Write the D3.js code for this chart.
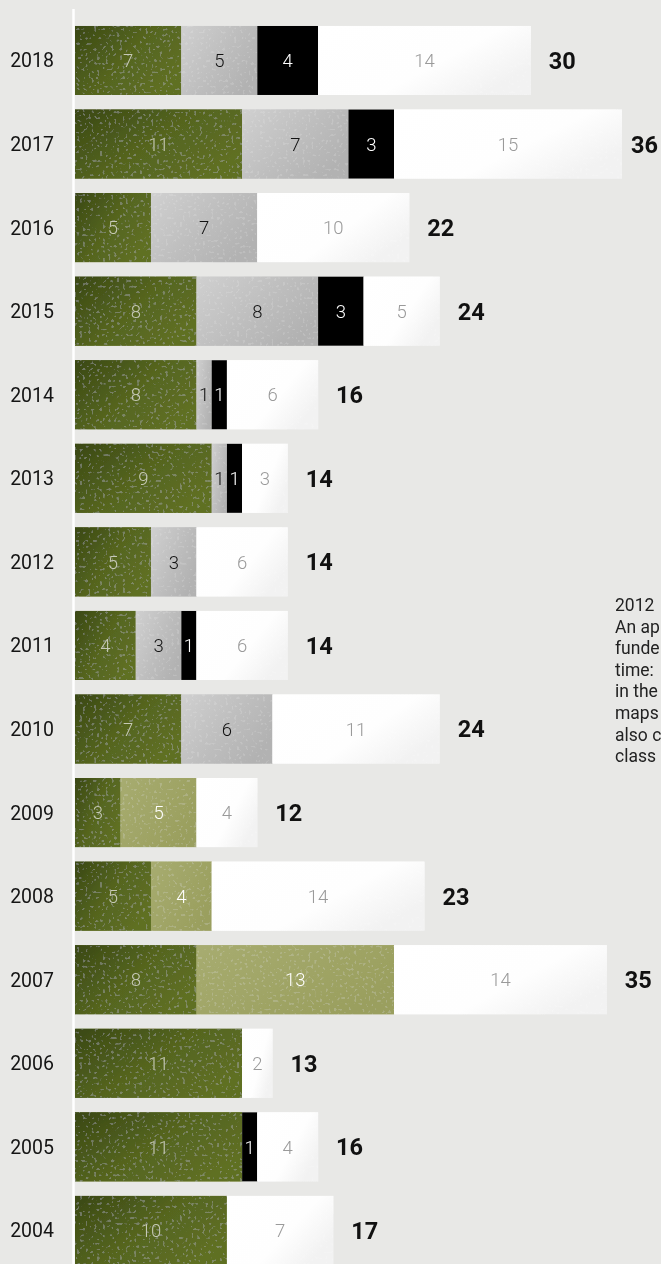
<!DOCTYPE html>
<html>
<head>
<meta charset="utf-8">
<script src="https://cdn.jsdelivr.net/npm/d3@7"></script>
<style>
  html, body { margin: 0; padding: 0; background: #e8e8e6; overflow: hidden; }
  svg { display: block; font-family: Roboto, "DejaVu Sans", sans-serif; -webkit-font-smoothing: antialiased; }
  .labels { opacity: 0.999; }
</style>
</head>
<body>
<svg width="661" height="1264"></svg>
<script>
const years      = [2018, 2017, 2016, 2015, 2014, 2013, 2012, 2011, 2010, 2009, 2008, 2007, 2006, 2005, 2004];
const darkOlive  = [7, 11, 5, 8, 8, 9, 5, 4, 7, 3, 5, 8, 11, 11, 10];
const lightOlive = [0, 0, 0, 0, 0, 0, 0, 0, 0, 5, 4, 13, 0, 0, 0];
const gray       = [5, 7, 7, 8, 1, 1, 3, 3, 6, 0, 0, 0, 0, 0, 0];
const black      = [4, 3, 0, 3, 1, 1, 0, 1, 0, 0, 0, 0, 0, 1, 0];
const white      = [14, 15, 10, 5, 6, 3, 6, 6, 11, 4, 14, 14, 2, 4, 7];
const noteLines  = ["2012", "An ap", "funde", "time:", "in the", "maps", "also c", "class"];

const keys = ["darkOlive", "lightOlive", "gray", "black", "white"];
const rows = years.map((y, i) => ({
    year: y,
    darkOlive: darkOlive[i],
    lightOlive: lightOlive[i],
    gray: gray[i],
    black: black[i],
    white: white[i]
}));

const svg = d3.select("svg");
const W = 661, H = 1264;

svg.append("rect").attr("width", W).attr("height", H).attr("fill", "#e8e8e6");

const x = d3.scaleLinear().domain([0, 36]).range([75, 622]);
const y = d3.scaleBand().domain(years).range([11.4, 1279.5]).padding(0.1745);

// gradients for the textured segments
const defs = svg.append("defs");
const grads = {
    darkOlive:  [["0%", "#3a4814"], ["55%", "#55651f"], ["100%", "#5f6f23"]],
    lightOlive: [["0%", "#a7ac70"], ["100%", "#9a9f5e"]],
    gray:       [["0%", "#d0d0d0"], ["60%", "#bdbdbd"], ["100%", "#b2b2b2"]],
    black:      [["0%", "#000"], ["100%", "#000"]],
    white:      [["0%", "#ffffff"], ["65%", "#fefefe"], ["100%", "#f2f2f2"]]
};
Object.entries(grads).forEach(([k, stops]) => {
    const g = defs.append("linearGradient").attr("id", "g-" + k)
        .attr("x1", "0%").attr("y1", "0%").attr("x2", "100%").attr("y2", "60%");
    stops.forEach(s => g.append("stop").attr("offset", s[0]).attr("stop-color", s[1]));
});

// sparse speckle texture
const f = defs.append("filter").attr("id", "speckle").attr("x", 0).attr("y", 0).attr("width", 1).attr("height", 1);
f.append("feTurbulence").attr("type", "fractalNoise").attr("baseFrequency", 0.35).attr("numOctaves", 1).attr("seed", 7).attr("result", "n");
f.append("feColorMatrix").attr("in", "n").attr("type", "matrix")
    .attr("values", "0 0 0 0 1  0 0 0 0 1  0 0 0 0 1  0 0 0 14 -8.6").attr("result", "dots");
f.append("feComponentTransfer").attr("in", "dots").attr("result", "soft")
    .append("feFuncA").attr("type", "linear").attr("slope", 0.12);
f.append("feComposite").attr("in", "soft").attr("in2", "SourceGraphic").attr("operator", "atop").attr("result", "c");
const fm = f.append("feMerge");
fm.append("feMergeNode").attr("in", "SourceGraphic");
fm.append("feMergeNode").attr("in", "c");

const labelColor = {
    darkOlive: "#c6c9b6",
    lightOlive: "#ffffff",
    gray: "#111111",
    black: "#ffffff",
    white: "#9a9a9a"
};

// axis line
svg.append("line")
    .attr("x1", 73.5).attr("x2", 73.5)
    .attr("y1", 9).attr("y2", H)
    .attr("stroke", "#fff").attr("stroke-width", 2.5);

const stack = d3.stack().keys(keys)(rows);

svg.append("g").selectAll(".layer")
    .data(stack)
    .join("g")
    .attr("class", "layer")
    .selectAll("rect")
    .data(d => d.map(s => ({ key: d.key, s })).filter(e => e.s[1] > e.s[0]))
    .join("rect")
    .attr("x", d => x(d.s[0]))
    .attr("y", d => y(d.s.data.year))
    .attr("width", d => x(d.s[1]) - x(d.s[0]))
    .attr("height", y.bandwidth())
    .attr("fill", d => `url(#g-${d.key})`)
    .attr("filter", d => (d.key === "black" ? null : "url(#speckle)"));

const labels = svg.append("g").attr("class", "labels");

labels.selectAll(".seg")
    .data(stack.flatMap(l => l.map(s => ({ key: l.key, s }))).filter(e => e.s[1] > e.s[0]))
    .join("text")
    .attr("class", "seg")
    .attr("x", d => (x(d.s[0]) + x(d.s[1])) / 2)
    .attr("y", d => y(d.s.data.year) + y.bandwidth() / 2)
    .attr("dy", "0.36em")
    .attr("text-anchor", "middle")
    .attr("font-size", 18.5)
    .attr("font-weight", 300)
    .attr("fill", d => labelColor[d.key])
    .text(d => d.s[1] - d.s[0]);

// year labels
labels.selectAll(".year")
    .data(rows)
    .join("text")
    .attr("class", "year")
    .attr("x", 54)
    .attr("y", d => y(d.year) + y.bandwidth() / 2)
    .attr("dy", "0.36em")
    .attr("text-anchor", "end")
    .attr("font-size", 19.5)
    .attr("fill", "#151515")
    .text(d => d.year);

// totals (pulled in when they would run off the right edge)
labels.selectAll(".total")
    .data(rows)
    .join("text")
    .attr("class", "total")
    .attr("x", d => Math.min(x(d3.sum(keys, k => d[k])) + 18, W - 30))
    .attr("y", d => y(d.year) + y.bandwidth() / 2)
    .attr("dy", "0.36em")
    .attr("font-size", 23.5)
    .attr("font-weight", 700)
    .attr("fill", "#111")
    .text(d => d3.sum(keys, k => d[k]));

// side note (cut off at the right edge)
labels.selectAll(".note")
    .data(noteLines)
    .join("text")
    .attr("class", "note")
    .attr("x", 615)
    .attr("y", (d, i) => 611 + i * 21.6)
    .attr("font-size", 17.5)
    .attr("fill", "#222")
    .text(d => d);
</script>
</body>
</html>
